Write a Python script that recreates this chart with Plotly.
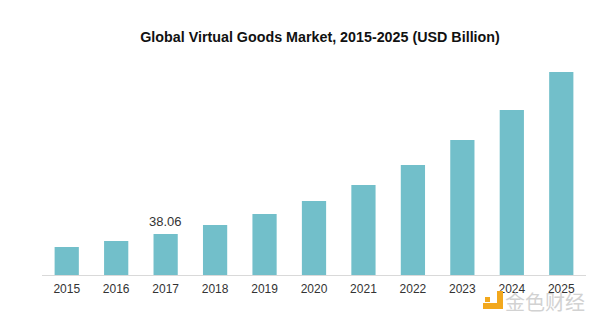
import plotly.graph_objects as go

# Global virtual goods market size, USD billion
years = ["2015", "2016", "2017", "2018", "2019", "2020",
         "2021", "2022", "2023", "2024", "2025"]
market_usd_bn = [26.0, 31.6, 38.06, 46.4, 56.6, 68.7,
                 83.5, 102.1, 125.3, 153.2, 188.4]
labeled_year = "2017"

bar_color = "#72bfca"
font_family = "Arial, Liberation Sans, sans-serif"

fig = go.Figure(
    go.Bar(
        x=years,
        y=market_usd_bn,
        marker=dict(color=bar_color, line=dict(width=0)),
        hoverinfo="x+y",
    )
)

# Value label above the highlighted year (category axis: position by index)
labeled_idx = years.index(labeled_year)
labeled_value = market_usd_bn[labeled_idx]
fig.add_annotation(
    x=labeled_idx, y=labeled_value,
    text=f"{labeled_value:.2f}",
    showarrow=False,
    yanchor="bottom",
    yshift=3,
    font=dict(family=font_family, size=13, color="#333333"),
)

fig.update_layout(
    width=600,
    height=323,
    margin=dict(l=42, r=14, t=65, b=48),
    paper_bgcolor="white",
    plot_bgcolor="white",
    bargap=0.51,
    showlegend=False,
    title=dict(
        text="<b>Global Virtual Goods Market, 2015-2025 (USD Billion)</b>",
        font=dict(family=font_family, size=14.3, color="#111111"),
        x=320 / 600,
        xref="container",
        xanchor="center",
        y=1 - 37 / 323,
        yref="container",
        yanchor="middle",
    ),
    xaxis=dict(
        type="category",
        range=[-0.5, len(years) - 0.5],
        showline=True,
        linecolor="#d9d9d9",
        linewidth=1,
        ticks="",
        showgrid=False,
        ticklabelstandoff=3,
        tickfont=dict(family=font_family, size=12, color="#333333"),
    ),
    yaxis=dict(
        range=[0, 195],
        visible=False,
        showgrid=False,
        zeroline=False,
    ),
)

# Watermark: orange logo and light grey brand text, bottom right
logo_color = "#f2a81d"
fig.add_shape(type="rect", xref="paper", yref="paper",
              x0=0.8364, x1=0.8474, y0=-0.1619, y1=-0.0762,
              fillcolor=logo_color, line=dict(width=0))
fig.add_shape(type="rect", xref="paper", yref="paper",
              x0=0.8107, x1=0.8474, y0=-0.1619, y1=-0.1333,
              fillcolor=logo_color, line=dict(width=0))
fig.add_shape(type="rect", xref="paper", yref="paper",
              x0=0.8143, x1=0.8235, y0=-0.1286, y1=-0.1048,
              fillcolor=logo_color, line=dict(width=0))
fig.add_annotation(
    text="金色财经",
    xref="paper", yref="paper",
    x=1.002, y=-0.124,
    xanchor="right", yanchor="middle",
    showarrow=False,
    font=dict(family="Noto Sans CJK SC", size=20, color="#d2d2d2"),
)

fig.write_html("out.html")
